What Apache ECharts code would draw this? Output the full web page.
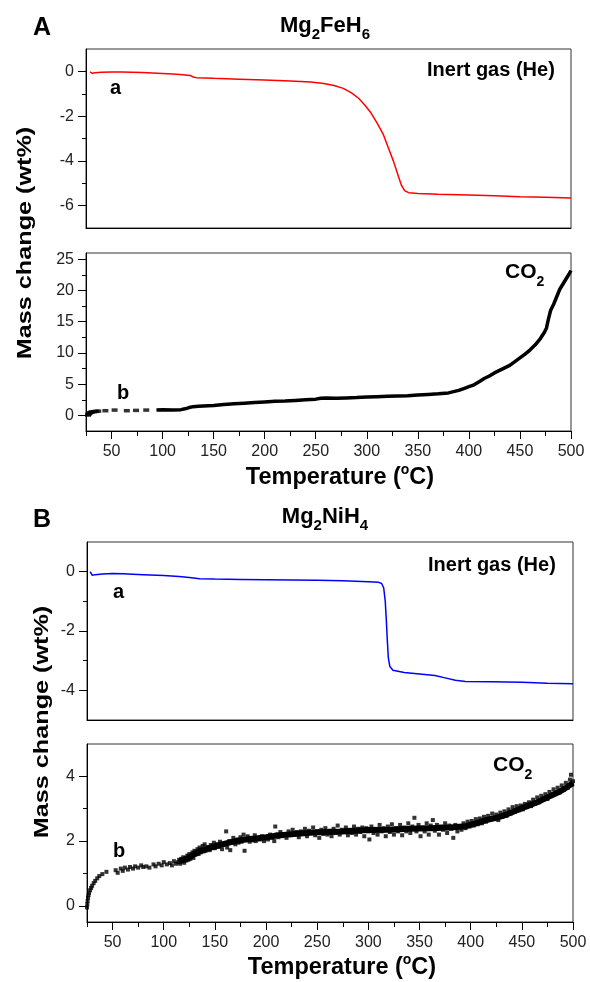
<!DOCTYPE html>
<html>
<head>
<meta charset="utf-8">
<script src="https://cdn.jsdelivr.net/npm/echarts@6/dist/echarts.min.js"></script>
<style>
  html, body { margin: 0; padding: 0; background: #fff; }
  #chart { width: 590px; height: 982px; }
</style>
</head>
<body>
<div id="chart"></div>
<script>
// A: Mg2FeH6, inert gas (He) - temperature / mass change
var heFe = [[29,-0.02],[31,-0.08],[34,-0.06],[40,-0.04],[50,-0.03],[60,-0.03],[70,-0.04],[80,-0.05],[90,-0.07],[100,-0.09],[110,-0.12],[120,-0.15],[127,-0.18],[130,-0.25],[133,-0.28],[150,-0.31],[175,-0.35],[200,-0.39],[225,-0.43],[245,-0.48],[258,-0.54],[268,-0.63],[277,-0.76],[285,-0.96],[292,-1.2],[298,-1.5],[304,-1.85],[310,-2.3],[316,-2.8],[321,-3.4],[326,-4.0],[331,-4.7],[334,-5.1],[337,-5.33],[341,-5.42],[350,-5.46],[370,-5.49],[400,-5.52],[425,-5.56],[450,-5.6],[475,-5.63],[500,-5.66]];
// A: Mg2FeH6 in CO2
var co2FeEarly = [[27,0.05],[27.5,0.2],[28,0.3],[29,0.42],[30,0.5],[31,0.55],[33,0.6],[35,0.65],[37,0.68],[44,0.75],[53,0.85],[65,0.75],[74,0.8],[84,0.85]];
var co2Fe = [[94,0.85],[100,0.9],[110,0.88],[118,0.92],[122,1.05],[126,1.25],[130,1.4],[135,1.45],[140,1.5],[150,1.6],[160,1.75],[170,1.85],[180,1.95],[190,2.05],[200,2.15],[210,2.25],[220,2.3],[230,2.4],[240,2.5],[250,2.6],[255,2.75],[260,2.8],[270,2.75],[280,2.8],[290,2.85],[300,2.95],[310,3.0],[320,3.05],[330,3.1],[340,3.15],[350,3.25],[360,3.35],[370,3.45],[380,3.6],[385,3.8],[390,4.0],[395,4.3],[400,4.6],[405,4.9],[410,5.4],[415,5.9],[420,6.3],[425,6.8],[430,7.2],[435,7.6],[440,8.0],[445,8.6],[450,9.2],[455,9.8],[460,10.5],[465,11.3],[470,12.3],[474,13.3],[476,14.0],[478,15.5],[480,16.8],[483,17.8],[486,19.0],[489,20.2],[492,21.0],[495,21.8],[498,22.6],[500,23.2]];

// B: Mg2NiH4, inert gas (He)
var heNi = [[28,0.0],[30,-0.12],[33,-0.1],[40,-0.08],[50,-0.06],[60,-0.07],[80,-0.1],[100,-0.13],[115,-0.16],[125,-0.2],[135,-0.24],[150,-0.25],[175,-0.26],[200,-0.27],[225,-0.28],[250,-0.29],[275,-0.31],[300,-0.34],[310,-0.36],[313,-0.4],[315,-0.55],[316.5,-1.0],[317.5,-1.6],[318.5,-2.3],[319.5,-2.9],[321,-3.2],[324,-3.32],[335,-3.4],[350,-3.45],[365,-3.5],[375,-3.58],[385,-3.66],[395,-3.7],[420,-3.71],[450,-3.73],[475,-3.76],[500,-3.78]];
// B: Mg2NiH4 in CO2 (band centre + scattered points)
var co2NiBand = [[115,1.38],[120,1.42],[125,1.5],[130,1.6],[135,1.68],[140,1.74],[150,1.84],[160,1.92],[170,2.0],[180,2.05],[190,2.08],[200,2.12],[210,2.17],[220,2.2],[230,2.23],[240,2.25],[250,2.27],[260,2.28],[275,2.3],[290,2.33],[300,2.34],[320,2.35],[340,2.38],[360,2.4],[380,2.42],[395,2.46],[405,2.55],[415,2.65],[425,2.72],[435,2.82],[445,2.95],[455,3.08],[465,3.2],[475,3.35],[485,3.5],[492,3.62],[500,3.8]];
var co2NiPts = [[25,-0.05],[25.3,0.05],[25.6,0.15],[26,0.25],[26.5,0.33],[27,0.4],[28,0.48],[29,0.55],[30,0.62],[31.5,0.7],[33,0.77],[35,0.85],[37,0.92],[40,0.98],[44,1.05],[53,1.1],[55,1.02],[58,1.15],[60,1.08],[62,1.18],[65,1.12],[67,1.2],[70,1.15],[72,1.22],[75,1.18],[78,1.25],[80,1.2],[83,1.22],[86,1.18],[90,1.28],[92,1.22],[95,1.3],[98,1.25],[100,1.35],[103,1.28],[106,1.32],[108,1.25],[110,1.38],[112,1.3],
  [114,1.35],[115,1.42],[116,1.3],[117,1.45],[118,1.38],[119,1.5],[120,1.33],[121,1.47],[122,1.4],[123,1.55],[124,1.42],[125,1.6],[126,1.45],[127,1.52],[128,1.65],[129,1.48],[130,1.7],[131,1.58],[132,1.62],[133,1.75],[134,1.6],[135,1.8],[136,1.65],[137,1.72],[138,1.85],[139,1.68],[140,1.9],[141,1.7],[142,1.78],[143,1.82],[145,1.72],[146,1.88],[148,1.8],[149,1.95],[150,1.78],[152,1.9],[154,1.82],[155,1.98],[157,1.75],[158,1.88],[160,1.93],[161,2.3],[162,1.8],[164,2.0],[165,1.72],[167,1.95],[168,2.1],[170,1.9],[172,2.05],[173,1.95],[175,2.12],[176,1.98],[178,2.2],[179,1.7],[180,2.05],[182,2.15],[184,1.98],[185,2.1],[187,2.02],[189,2.18],[190,2.0],[192,2.1],[194,2.05],[196,2.15],[198,2.0],[200,2.12],[202,2.05],[204,2.2],[206,2.1],[208,2.0],[209,2.45],[210,2.2],[212,2.12],[214,2.28],[216,2.15],[218,2.22],[220,2.1],[222,2.3],[224,2.18],[226,2.35],[228,2.2],[230,2.28],[232,2.12],[234,2.3],[236,2.22],[238,2.38],[240,2.15],[242,2.32],[244,2.25],[246,2.42],[248,2.18],[250,2.3],[252,2.1],[254,2.35],[256,2.22],[258,2.4],[260,2.2],[262,2.32],[264,2.15],[266,2.38],[268,2.25],[270,2.48],[272,2.2],[274,2.35],[276,2.28],[278,2.42],[280,2.18],[282,2.35],[284,2.25],[286,2.45],[288,2.2],[290,2.38],[292,2.28],[294,2.42],[296,2.15],[298,2.4],[300,2.3],[301,2.05],[303,2.45],[305,2.25],[307,2.38],[309,2.2],[311,2.5],[313,2.3],[315,2.4],[317,2.15],[319,2.45],[321,2.28],[323,2.52],[325,2.2],[327,2.4],[329,2.3],[331,2.5],[333,2.18],[335,2.42],[337,2.3],[339,2.55],[341,2.25],[343,2.45],[345,2.72],[347,2.3],[349,2.5],[351,2.15],[353,2.42],[355,2.3],[357,2.55],[359,2.2],[361,2.48],[363,2.65],[365,2.32],[367,2.5],[369,2.2],[371,2.45],[373,2.35],[375,2.55],[377,2.25],[379,2.48],[381,2.38],[383,2.1],[385,2.5],[387,2.3],[389,2.45],[391,2.35],[393,2.55],[395,2.4],[397,2.6],[399,2.45],[401,2.62],[403,2.48],[405,2.68],[407,2.52],[409,2.7],[411,2.55],[413,2.75],[415,2.6],[417,2.78],[419,2.65],[421,2.85],[423,2.7],[425,2.82],[427,2.65],[429,2.88],[431,2.75],[433,2.92],[435,2.78],[437,2.98],[439,2.85],[441,3.05],[443,2.9],[445,3.08],[447,2.95],[449,3.1],[451,2.98],[453,3.15],[455,3.05],[457,3.2],[459,3.08],[461,3.28],[463,3.15],[465,3.35],[467,3.2],[469,3.4],[471,3.28],[473,3.45],[475,3.3],[477,3.52],[479,3.4],[481,3.6],[483,3.45],[485,3.65],[487,3.5],[489,3.72],[491,3.58],[493,3.8],[495,3.65],[497,3.9],[498,4.05],[499,3.75],[500,3.85]];

// tick values
var xMajor = [50,100,150,200,250,300,350,400,450,500];
var xMinor = [25,75,125,175,225,275,325,375,425,475];
var yMajorA1 = [-6,-4,-2,0], yMinorA1 = [-5,-3,-1];
var yMajorA2 = [0,5,10,15,20,25], yMinorA2 = [2.5,7.5,12.5,17.5,22.5];
var yMajorB1 = [-4,-2,0], yMinorB1 = [-3,-1];
var yMajorB2 = [0,2,4], yMinorB2 = [1,3];

var FONT = "'Liberation Sans', Arial, sans-serif";
var myChart = echarts.init(document.getElementById('chart'));

var grids = [
  { left: 86, right: 19, top: 49, height: 179 },
  { left: 86, right: 19, top: 253, height: 178 },
  { left: 87, right: 17, top: 542, height: 178 },
  { left: 87, right: 17, top: 744, height: 178 }
];
grids.forEach(function (g) {
  g.show = true;
  g.borderColor = '#333';
  g.borderWidth = 1;
  g.backgroundColor = 'transparent';
});

function xMain(gi, showLabels) {
  return {
    type: 'value', gridIndex: gi, min: 25, max: 500, position: 'bottom',
    axisLine: { show: true, onZero: false, lineStyle: { color: '#000', width: 1 } },
    axisTick: { show: showLabels, customValues: xMajor, length: 8, inside: false, lineStyle: { color: '#000' } },
    axisLabel: { show: showLabels, customValues: xMajor, margin: 13, fontSize: 16, color: '#222', fontFamily: FONT },
    splitLine: { show: false }
  };
}
function xMinorAxis(gi) {
  return {
    type: 'value', gridIndex: gi, min: 25, max: 500, position: 'bottom',
    axisLine: { show: false, onZero: false },
    axisTick: { show: true, customValues: xMinor, length: 5, lineStyle: { color: '#000' } },
    axisLabel: { show: false },
    splitLine: { show: false }
  };
}
function yMain(gi, min, max, ticks) {
  return {
    type: 'value', gridIndex: gi, min: min, max: max, position: 'left',
    axisLine: { show: true, onZero: false, lineStyle: { color: '#000', width: 1 } },
    axisTick: { show: true, customValues: ticks, length: 8, lineStyle: { color: '#000' } },
    axisLabel: { show: true, customValues: ticks, margin: 12, fontSize: 16, color: '#222', fontFamily: FONT },
    splitLine: { show: false }
  };
}
function yMinorAxis(gi, min, max, ticks) {
  return {
    type: 'value', gridIndex: gi, min: min, max: max, position: 'left', offset: 0,
    axisLine: { show: false, onZero: false },
    axisTick: { show: true, customValues: ticks, length: 4, lineStyle: { color: '#000' } },
    axisLabel: { show: false },
    splitLine: { show: false }
  };
}

var richMain = {
  m: { fontSize: 22, fontWeight: 'bold', fontFamily: FONT, color: '#000', lineHeight: 27, verticalAlign: 'top' },
  s: { fontSize: 15, fontWeight: 'bold', fontFamily: FONT, color: '#000', lineHeight: 12, verticalAlign: 'bottom' }
};
var richCo = {
  m: { fontSize: 21, fontWeight: 'bold', fontFamily: FONT, color: '#000', lineHeight: 27, verticalAlign: 'top' },
  s: { fontSize: 14, fontWeight: 'bold', fontFamily: FONT, color: '#000', lineHeight: 12, verticalAlign: 'bottom' }
};
var richTemp = {
  m: { fontSize: 23.5, fontWeight: 'bold', fontFamily: FONT, color: '#000', lineHeight: 27, verticalAlign: 'bottom' },
  p: { fontSize: 14, fontWeight: 'bold', fontFamily: FONT, color: '#000', lineHeight: 12, verticalAlign: 'top' }
};

function txt(x, y, text, size, align) {
  return {
    type: 'text', x: x, y: y,
    style: { text: text, fontSize: size, fontWeight: 'bold', fontFamily: FONT, fill: '#000', align: align || 'left', verticalAlign: 'top' }
  };
}
function rich(x, y, text, r, align) {
  return {
    type: 'text', x: x, y: y,
    style: { text: text, rich: r, align: align || 'center', verticalAlign: 'top', fill: '#000' }
  };
}
function yName(x, y) {
  return {
    type: 'text', x: x, y: y, rotation: Math.PI / 2, scaleX: 1.26,
    style: { text: 'Mass change (wt%)', fontSize: 20, fontWeight: 'bold', fontFamily: FONT, fill: '#000', align: 'center', verticalAlign: 'middle' }
  };
}

var option = {
  animation: false,
  backgroundColor: '#fff',
  grid: grids,
  xAxis: [xMain(0, false), xMain(1, true), xMain(2, false), xMain(3, true), xMinorAxis(1), xMinorAxis(3)],
  yAxis: [
    yMain(0, -7, 1, yMajorA1), yMain(1, -2.5, 26, yMajorA2), yMain(2, -5, 1, yMajorB1), yMain(3, -0.5, 5, yMajorB2),
    yMinorAxis(0, -7, 1, yMinorA1), yMinorAxis(1, -2.5, 26, yMinorA2), yMinorAxis(2, -5, 1, yMinorB1), yMinorAxis(3, -0.5, 5, yMinorB2)
  ],
  graphic: [
    txt(33, 16, 'A', 25),
    txt(33, 508, 'B', 25),
    rich(325, 15, '{m|Mg}{s|2}{m|FeH}{s|6}', richMain),
    rich(325, 506, '{m|Mg}{s|2}{m|NiH}{s|4}', richMain),
    txt(427, 60, 'Inert gas (He)', 20),
    txt(428, 555, 'Inert gas (He)', 20),
    txt(110, 78, 'a', 20),
    txt(113, 582, 'a', 20),
    txt(117, 383, 'b', 20),
    txt(113, 841, 'b', 20),
    rich(505, 262, '{m|CO}{s|2}', richCo, 'left'),
    rich(493, 755, '{m|CO}{s|2}', richCo, 'left'),
    rich(340, 463, '{m|Temperature (}{p|o}{m|C)}', richTemp),
    rich(342, 953, '{m|Temperature (}{p|o}{m|C)}', richTemp),
    yName(25, 243),
    yName(42, 722)
  ],
  series: [
    { type: 'line', xAxisIndex: 0, yAxisIndex: 0, data: heFe, showSymbol: false, lineStyle: { color: '#ff0000', width: 1.5 } },
    { type: 'line', xAxisIndex: 1, yAxisIndex: 1, data: co2Fe, showSymbol: false, lineStyle: { color: '#000', width: 3.5 } },
    { type: 'scatter', xAxisIndex: 1, yAxisIndex: 1, data: co2FeEarly, symbol: 'rect', symbolSize: [6, 3.5], itemStyle: { color: '#000' } },
    { type: 'line', xAxisIndex: 2, yAxisIndex: 2, data: heNi, showSymbol: false, lineStyle: { color: '#0000ff', width: 1.5 } },
    { type: 'line', xAxisIndex: 3, yAxisIndex: 3, data: co2NiBand, showSymbol: false, lineStyle: { color: '#000', width: 6 } },
    { type: 'scatter', xAxisIndex: 3, yAxisIndex: 3, data: co2NiPts, symbol: 'rect', symbolSize: 4, itemStyle: { color: '#000' } }
  ]
};
myChart.setOption(option);
</script>
</body>
</html>
